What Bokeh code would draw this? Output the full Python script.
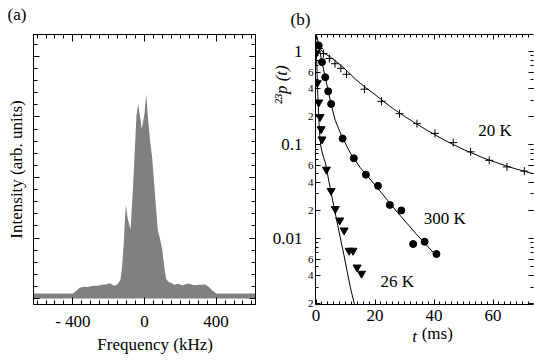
import math
from bokeh.plotting import figure
from bokeh.layouts import row
from bokeh.models import (FixedTicker, LinearAxis, LogAxis, Label, Range1d,
                          CustomJSTickFormatter)
from bokeh.embed import file_html
from bokeh.resources import INLINE

FONT = "Liberation Serif"

# ---------------- panel (a): NMR spectrum ----------------
freq_khz = [-620, -400, -380, -362, -340, -318, -300, -280, -260, -237, -215, -200,
            -192, -175, -165, -150, -138, -134, -125, -116, -110, -104, -95, -78,
            -65, -45, -35, -25, -15, 0, 9.5, 20, 30, 43, 60, 74, 88, 99, 110, 121,
            135, 150, 167, 180, 194, 210, 221, 235, 248, 265, 283, 300, 320, 337,
            350, 364, 380, 400, 620]
intensity = [0.086, 0.086, 0.13, 0.178, 0.194, 0.19, 0.203, 0.211, 0.214, 0.227,
             0.235, 0.251, 0.254, 0.219, 0.211, 0.243, 0.292, 0.324, 0.535, 0.912,
             1.264, 1.545, 1.345, 1.135, 1.78, 3.02, 3.22, 3.0, 2.80, 3.05, 3.38,
             2.97, 2.64, 2.32, 1.67, 1.135, 0.97, 0.81, 0.535, 0.324, 0.276, 0.259,
             0.227, 0.243, 0.243, 0.219, 0.227, 0.243, 0.251, 0.227, 0.219, 0.227,
             0.227, 0.235, 0.211, 0.178, 0.13, 0.086, 0.086]
freq_ticks = [-400, 0, 400]
freq_tick_labels = {-400: "- 400", 0: "0", 400: "400"}

# ---------------- panel (b): recovery curves ----------------
t20 = [1.0, 2.5, 4.5, 6.4, 8.4, 10.3, 16.4, 22.2, 28.3, 34.2, 40.3, 46.5, 52.4,
       58.7, 64.7, 70.6]
p20 = [1.08, 0.95, 0.84, 0.74, 0.66, 0.57, 0.395, 0.293, 0.216, 0.169, 0.133,
       0.106, 0.0844, 0.0684, 0.0582, 0.0524]
t300 = [0.9, 2.0, 3.1, 4.1, 5.1, 9.0, 12.8, 16.9, 21.0, 25.0, 28.9, 32.9, 36.8, 40.8]
p300 = [1.16, 0.77, 0.53, 0.375, 0.275, 0.117, 0.072, 0.048, 0.0365, 0.0228,
        0.0199, 0.0087, 0.0092, 0.0068]
t26 = [0.0, 0.4, 0.9, 1.35, 1.7, 2.0, 3.5, 5.1, 6.5, 8.0, 9.5, 11.2, 12.5, 13.9, 15.4]
p26 = [0.96, 0.46, 0.286, 0.20, 0.148, 0.115, 0.0546, 0.0323, 0.0207, 0.0156,
       0.0122, 0.0074, 0.0074, 0.0049, 0.0042]

fit20_t = [0.2, 2.5, 4.9, 7.5, 10.5, 13.5, 16.8, 20.0, 23.0, 26.5, 29.8, 33.0,
           36.6, 40.0, 43.4, 46.8, 50.2, 53.6, 57.0, 60.4, 63.8, 67.2, 70.6, 73.7]
fit20_p = [1.18, 0.97, 0.87, 0.75, 0.62, 0.50, 0.41, 0.345, 0.29, 0.24, 0.204,
           0.176, 0.150, 0.130, 0.113, 0.100, 0.0886, 0.080, 0.0718, 0.066, 0.0606,
           0.056, 0.0524, 0.049]
fit300_t = [0.3, 0.9, 2.0, 3.1, 4.1, 5.0, 6.5, 8.8, 11.6, 15.0, 20.7, 27.5, 34.2, 41.0]
fit300_p = [1.45, 1.15, 0.77, 0.53, 0.38, 0.28, 0.183, 0.122, 0.0818, 0.0569,
            0.035, 0.0191, 0.0109, 0.0064]
fit26_t = [0.0, 0.2, 0.35, 0.6, 1.0, 1.35, 1.65, 2.2, 3.15, 4.85, 7.1, 9.4, 11.6, 13.4]
fit26_p = [1.3, 0.8, 0.567, 0.33, 0.17, 0.115, 0.095, 0.08, 0.0642, 0.0336, 0.015,
           0.0067, 0.003, 0.00175]

curve_labels = ["20 K", "300 K", "26 K"]
curve_label_x = [55.0, 36.5, 21.8]
curve_label_y = [0.141, 0.0165, 0.00342]   # vertical centres of the labels

log_major = [0.01, 0.1, 1]
log_labeled_minor = [0.002, 0.004, 0.006, 0.02, 0.04, 0.06, 0.2, 0.4, 0.6]
log_minor = [m * d for d in (0.001, 0.01, 0.1, 1) for m in range(2, 10)]

YLABEL_B = "\u00b2\u00b3p (t)"
YLABEL_B_AT = 0.44    # vertical centre of the rotated y title of panel (b)
XLABEL_B_T_AT = 33.4  # where the italic "t" of the x title of panel (b) sits

BLANK = CustomJSTickFormatter(code="return ''")


def style_axis(ax, tick_in, minor_in, font_size="17px", standoff=5):
    ax.major_tick_in = tick_in
    ax.major_tick_out = 0
    ax.minor_tick_in = minor_in
    ax.minor_tick_out = 0
    ax.axis_line_color = "black"
    ax.major_tick_line_color = "black"
    ax.minor_tick_line_color = "black"
    ax.major_label_text_font = FONT
    ax.major_label_text_font_size = font_size
    ax.major_label_text_color = "black"
    ax.major_label_standoff = standoff
    ax.axis_label_text_font = FONT
    ax.axis_label_text_font_size = "17px"
    ax.axis_label_text_font_style = "normal"
    ax.axis_label_text_color = "black"


def bare(ax):
    ax.axis_line_color = None
    ax.major_tick_line_color = None
    ax.minor_tick_line_color = None


def style_title(p, text, offset):
    p.title.text = text
    p.title.text_font = FONT
    p.title.text_font_size = "17px"
    p.title.text_font_style = "normal"
    p.title.text_color = "black"
    p.title.align = "left"
    p.title.offset = offset
    p.title.vertical_align = "top"
    p.title.standoff = 0


def spacer_above(p, ticker, gap):
    sp = LinearAxis(ticker=ticker, formatter=BLANK)
    style_axis(sp, 0, 0, standoff=0)
    sp.major_tick_out = gap
    bare(sp)
    p.add_layout(sp, "above")


# ---------- figure (a) ----------
pa = figure(width=256, height=360, x_range=Range1d(-620, 620),
            y_range=Range1d(-0.097, 4.36), output_backend="svg",
            toolbar_location=None, min_border_left=33, min_border_right=1,
            min_border_top=34, min_border_bottom=51)
pa.xgrid.visible = False
pa.ygrid.visible = False
pa.outline_line_color = "black"
pa.outline_line_width = 1
pa.varea(x=freq_khz, y1=0, y2=intensity, fill_color="#808080")
style_title(pa, "(a)", -26)

xt_a = FixedTicker(ticks=freq_ticks, minor_ticks=list(range(-600, 601, 50)))
yt_a = FixedTicker(ticks=[0, 1, 2, 3, 4], minor_ticks=[i * 0.2 for i in range(0, 23)])

xa = pa.xaxis[0]
xa.ticker = xt_a
xa.major_label_overrides = freq_tick_labels
style_axis(xa, 7, 4, standoff=7)
xa.axis_label = "\u00a0" * 5 + "Frequency (kHz)"
xa.axis_label_standoff = 1

ya = pa.yaxis[0]
ya.ticker = yt_a
ya.formatter = BLANK
style_axis(ya, 6, 4, standoff=0)
ya.axis_label = "Intensity (arb. units)"
ya.axis_label_standoff = 8

top_a = LinearAxis(ticker=xt_a, formatter=BLANK)
style_axis(top_a, 7, 4, standoff=0)
pa.add_layout(top_a, "above")
spacer_above(pa, FixedTicker(ticks=[0], minor_ticks=[]), 9)
right_a = LinearAxis(ticker=yt_a, formatter=BLANK)
style_axis(right_a, 6, 4, standoff=0)
pa.add_layout(right_a, "right")

# ---------- figure (b) ----------
pb = figure(width=278, height=360, x_range=Range1d(-0.2, 73.7),
            y_range=Range1d(0.00196, 1.52), y_axis_type="log",
            output_backend="svg", toolbar_location=None, min_border_left=59,
            min_border_right=1, min_border_top=29, min_border_bottom=56)
pb.xgrid.visible = False
pb.ygrid.visible = False
pb.outline_line_color = None
style_title(pb, "(b)", -25)

pb.line(fit20_t, fit20_p, line_color="black", line_width=1)
pb.line(fit300_t, fit300_p, line_color="black", line_width=1)
pb.line(fit26_t, fit26_p, line_color="black", line_width=1)
pb.scatter(t20, p20, marker="cross", size=8, line_color="black", line_width=1)
pb.scatter(t300, p300, marker="circle", size=7, fill_color="black", line_color="black")
pb.scatter(t26, p26, marker="inverted_triangle", size=8, fill_color="black",
           line_color="black")

for txt, lx, ly in zip(curve_labels, curve_label_x, curve_label_y):
    pb.add_layout(Label(x=lx, y=ly, text=txt, text_font=FONT, text_font_size="17px",
                        text_baseline="middle", text_color="black"))

xt_b = FixedTicker(ticks=[0, 20, 40, 60], minor_ticks=list(range(0, 75, 2)))
xb = pb.xaxis[0]
xb.ticker = xt_b
style_axis(xb, 5, 3, standoff=5)
xb.axis_label = "\u00a0" * 6 + "(ms)"
xb.axis_label_standoff = 0

# italic "t" of the x title, as the single tick label of a bare outer axis
xb_t = LinearAxis(ticker=FixedTicker(ticks=[XLABEL_B_T_AT], minor_ticks=[]))
xb_t.major_label_overrides = {XLABEL_B_T_AT: "t"}
style_axis(xb_t, 0, 0, standoff=-19)
xb_t.major_label_text_font_style = "italic"
bare(xb_t)
pb.add_layout(xb_t, "below")

yt_inner = FixedTicker(ticks=log_major + log_labeled_minor, minor_ticks=log_minor)
yb = pb.yaxis[0]
yb.ticker = yt_inner
yb.major_label_overrides = {
    v: ("" if v in log_major else str(round(v / 10 ** math.floor(math.log10(v) + 1e-9))))
    for v in log_major + log_labeled_minor}
style_axis(yb, 5, 3, font_size="11px", standoff=2)

yb_outer = LogAxis(ticker=FixedTicker(ticks=log_major, minor_ticks=[]))
yb_outer.major_label_overrides = {0.01: "0.01", 0.1: "0.1", 1: "1"}
style_axis(yb_outer, 0, 0, standoff=2)
bare(yb_outer)
pb.add_layout(yb_outer, "left")

# rotated y title of panel (b), drawn as the single tick label of a bare axis
yb_title = LogAxis(ticker=FixedTicker(ticks=[YLABEL_B_AT], minor_ticks=[]))
yb_title.major_label_overrides = {YLABEL_B_AT: YLABEL_B}
style_axis(yb_title, 0, 0, standoff=-22)
yb_title.major_label_orientation = "vertical"
yb_title.major_label_text_font_style = "italic"
bare(yb_title)
pb.add_layout(yb_title, "left")

top_b = LinearAxis(ticker=xt_b, formatter=BLANK)
style_axis(top_b, 5, 3, standoff=0)
pb.add_layout(top_b, "above")
spacer_above(pb, FixedTicker(ticks=[0], minor_ticks=[]), 4)
right_b = LogAxis(ticker=yt_inner, formatter=BLANK)
style_axis(right_b, 5, 3, standoff=0)
right_b.axis_line_color = None
pb.add_layout(right_b, "right")

layout = row(pa, pb)
open("out.html", "w").write(file_html(layout, INLINE))
